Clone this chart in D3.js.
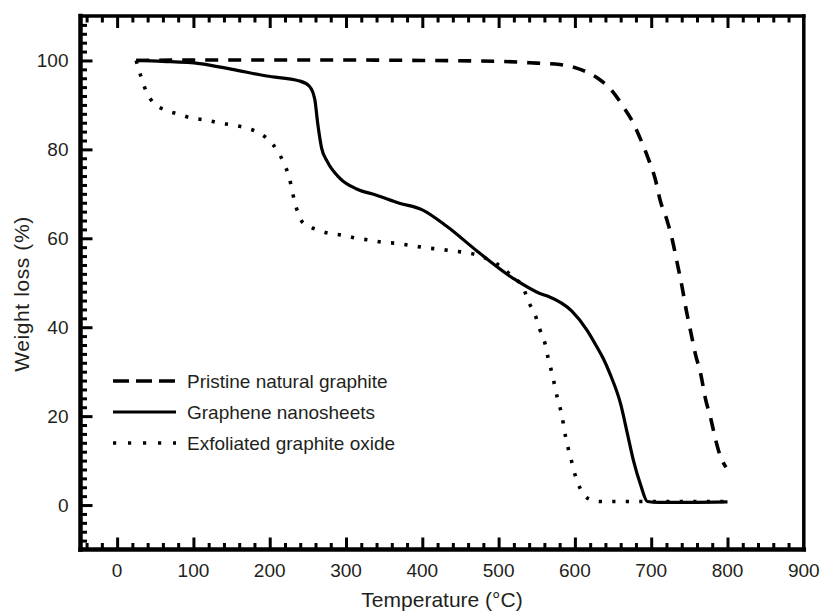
<!DOCTYPE html>
<html>
<head>
<meta charset="utf-8">
<script src="https://cdn.jsdelivr.net/npm/d3@7"></script>
<style>
  html, body { margin: 0; padding: 0; background: #fff; }
  svg { display: block; }
  text { font-family: "Liberation Sans", Arial, Helvetica, sans-serif; fill: #231f20; }
</style>
</head>
<body>
<svg id="chart" width="821" height="612"></svg>
<script>
// ---- Data ----
const pristineT = [25, 100, 200, 300, 400, 500, 550, 580, 607, 630, 649, 663, 675, 686, 696, 705, 712, 721, 728, 734, 740, 746, 752, 758, 765, 771, 778, 784, 790, 798];
const pristineW = [100, 100.1, 100.1, 100.1, 100, 99.8, 99.4, 99.1, 98, 96, 93.1, 89.7, 86.4, 82.3, 78, 73.5, 68.4, 63.9, 59.4, 54.5, 49.5, 43.8, 38.8, 33.9, 29.4, 24, 19.5, 15, 11.3, 8.5];

const grapheneT = [25, 60, 108, 151, 196, 239, 252, 259, 263, 268, 275, 292, 314, 340, 370, 400, 432, 472, 519, 554, 564, 596, 616, 629, 637, 646, 660, 669, 677, 686, 695, 710, 750, 800];
const grapheneW = [100, 99.8, 99.3, 98, 96.5, 95.4, 94.2, 91.3, 85.7, 80.3, 77.4, 73.5, 71.1, 69.7, 67.9, 66.4, 62.7, 57.1, 51, 47.6, 47, 43.6, 39.3, 35.5, 33, 29.5, 22.7, 15.9, 9.8, 4.6, 0.8, 0.6, 0.6, 0.7];

const oxideT = [25, 31, 38, 48, 64, 81, 98, 117, 134, 151, 169, 184, 197, 210, 219, 226, 230, 235, 244, 261, 278, 296, 314, 331, 348, 364, 399, 433, 472, 504, 519, 532, 539, 548, 554, 561, 565, 570, 574, 578, 583, 586, 590, 595, 600, 607, 617, 633, 690, 800];
const oxideW = [100, 96.5, 93.1, 90.4, 88.8, 87.9, 87, 86.6, 85.9, 85.5, 84.8, 83.9, 82.4, 79.7, 76.7, 73.4, 70.2, 66.8, 63.4, 62, 61.1, 60.7, 60, 59.6, 59.1, 58.9, 58, 57.3, 56.2, 53.5, 51.2, 49, 45.8, 42.7, 39.5, 36.2, 33, 29.6, 26.5, 23.3, 20.2, 17, 13.6, 10.3, 6.9, 3.7, 1.5, 0.8, 0.8, 0.8];

const seriesNames = ["Pristine natural graphite", "Graphene nanosheets", "Exfoliated graphite oxide"];
const xTickLabels = [0, 100, 200, 300, 400, 500, 600, 700, 800, 900];
const yTickLabels = [0, 20, 40, 60, 80, 100];
const xTitle = "Temperature (\u00B0C)";
const yTitle = "Weight loss (%)";

// ---- Layout ----
const svg = d3.select("#chart");
const ink = "#000";
const x = d3.scaleLinear().domain([-48, 900]).range([80.5, 803.8]);
const y = d3.scaleLinear().domain([-10, 110]).range([549.5, 16]);
const [x0, x1] = x.range();
const [y0, y1] = y.range(); // y0 bottom, y1 top
const fontSize = 19;
const titleSize = 21;

const styles = [
  { dash: "13,10", legendDash: "16,7", width: 3.6, cap: "butt" },
  { dash: null, legendDash: null, width: 3.2, cap: "butt" },
  { dash: "3.2,10.3", legendDash: "3.2,11.8", width: 3.6, cap: "butt" }
];

const series = [
  pristineT.map((t, i) => ({ t, w: pristineW[i] })),
  grapheneT.map((t, i) => ({ t, w: grapheneW[i] })),
  oxideT.map((t, i) => ({ t, w: oxideW[i] }))
];

// ---- Curves ----
const line = d3.line().x(d => x(d.t)).y(d => y(d.w)).curve(d3.curveMonotoneX);
const gCurves = svg.append("g");
series.forEach((s, i) => {
  gCurves.append("path")
    .attr("d", line(s))
    .attr("fill", "none")
    .attr("stroke", ink)
    .attr("stroke-width", styles[i].width)
    .attr("stroke-linecap", styles[i].cap)
    .attr("stroke-linejoin", "round")
    .attr("stroke-dasharray", styles[i].dash);
});

// ---- Axes (ticks inward, with minor ticks) ----
const majorLen = 12, minorLen = 6.5, tickW = 3;
const xMinor = d3.range(-40, 900, 20).filter(v => v % 100 !== 0);
const xMajor = d3.range(0, 900, 100);
const yMinor = d3.range(-8, 110, 2).filter(v => v % 20 !== 0);
const yMajor = d3.range(0, 101, 20);

svg.append("g").attr("transform", `translate(0,${y0})`)
  .call(d3.axisBottom(x).tickValues(xMajor).tickSize(-majorLen).tickFormat(""));
svg.append("g").attr("transform", `translate(0,${y0})`)
  .call(d3.axisBottom(x).tickValues(xMinor).tickSize(-minorLen).tickFormat(""));
svg.append("g").attr("transform", `translate(0,${y1})`)
  .call(d3.axisTop(x).tickValues(xMajor).tickSize(-majorLen).tickFormat(""));
svg.append("g").attr("transform", `translate(0,${y1})`)
  .call(d3.axisTop(x).tickValues(xMinor).tickSize(-minorLen).tickFormat(""));
svg.append("g").attr("transform", `translate(${x0},0)`)
  .call(d3.axisLeft(y).tickValues(yMajor).tickSize(-majorLen).tickFormat(""));
svg.append("g").attr("transform", `translate(${x0},0)`)
  .call(d3.axisLeft(y).tickValues(yMinor).tickSize(-minorLen).tickFormat(""));

svg.selectAll(".domain").remove();
svg.selectAll(".tick line").attr("stroke", ink).attr("stroke-width", tickW);

// frame
const frame = svg.append("g").attr("stroke", ink).attr("stroke-linecap", "square");
frame.append("line").attr("x1", x0).attr("x2", x0).attr("y1", y1).attr("y2", y0).attr("stroke-width", 4.5);
frame.append("line").attr("x1", x0).attr("x2", x1).attr("y1", y0).attr("y2", y0).attr("stroke-width", 4.5);
frame.append("line").attr("x1", x0).attr("x2", x1).attr("y1", y1).attr("y2", y1).attr("stroke-width", 3.5);
frame.append("line").attr("x1", x1).attr("x2", x1).attr("y1", y1).attr("y2", y0).attr("stroke-width", 3.5);

// tick labels
svg.append("g").selectAll("text").data(xTickLabels).join("text")
  .attr("x", d => x(d)).attr("y", 577)
  .attr("text-anchor", "middle")
  .attr("font-size", fontSize)
  .text(d => d);
svg.append("g").selectAll("text").data(yTickLabels).join("text")
  .attr("x", 68.5).attr("y", d => y(d)).attr("dy", "0.36em")
  .attr("text-anchor", "end")
  .attr("font-size", fontSize)
  .text(d => d);

// axis titles
svg.append("text")
  .attr("x", 442).attr("y", 607)
  .attr("text-anchor", "middle").attr("font-size", titleSize)
  .text(xTitle);
svg.append("text")
  .attr("transform", `translate(28.5,${294}) rotate(-90)`)
  .attr("text-anchor", "middle").attr("font-size", titleSize)
  .attr("letter-spacing", "0.6")
  .text(yTitle);

// ---- Legend ----
const legend = svg.append("g");
const legY0 = 381, legStep = 31;
seriesNames.forEach((name, i) => {
  const ly = legY0 + i * legStep;
  legend.append("line")
    .attr("x1", 113).attr("x2", 176).attr("y1", ly).attr("y2", ly)
    .attr("stroke", ink).attr("stroke-width", styles[i].width)
    .attr("stroke-dasharray", styles[i].legendDash);
  legend.append("text")
    .attr("x", 187).attr("y", ly).attr("dy", "0.36em")
    .attr("font-size", fontSize)
    .text(name);
});
</script>
</body>
</html>
